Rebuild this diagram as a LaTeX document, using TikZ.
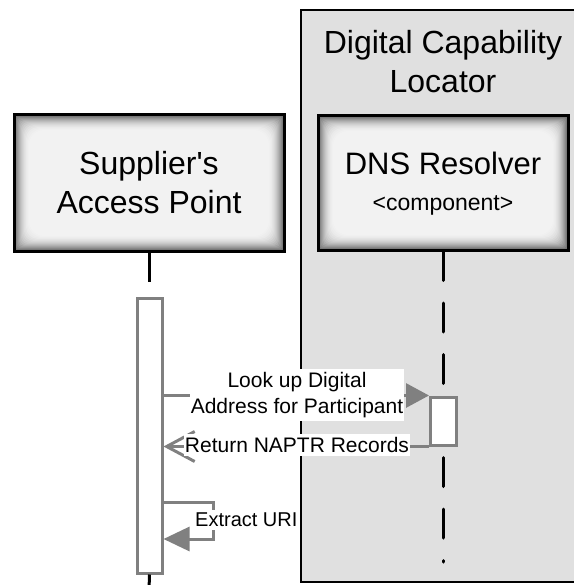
\documentclass[tikz,border=0pt]{standalone}
\usepackage{fontspec}
\setmainfont{Liberation Sans}[Ligatures=TeXOff]
\usetikzlibrary{arrows.meta}
\definecolor{contgray}{gray}{0.88}
\definecolor{msggray}{gray}{0.5}
\newcommand{\glowrect}[4]{%
  \fill[black!60] (#1,#2) rectangle (#3,#4);
  \foreach \i in {1,...,16}{
    \pgfmathsetmacro\c{95-55*(1-\i/16)^2}
    \fill[white!\c!black, rounded corners=\i pt] (#1+\i,#2+\i) rectangle (#3-\i,#4-\i);
  }%
}
\tikzset{
  boxnode/.style={draw=black, line width=3pt, inner sep=0pt, align=center},
  big/.style={font=\fontsize{32}{39}\selectfont},
  bar/.style={draw=msggray, fill=white, line width=3pt, inner sep=0pt, minimum width=25pt},
  msgline/.style={draw=msggray, line width=3pt},
  msglabel/.style={fill=white, inner xsep=1pt, inner ysep=3pt, align=center, font=\fontsize{21}{26}\selectfont},
  lifeline/.style={draw=black, line width=3pt},
}
\begin{document}
\begin{tikzpicture}[x=1pt, y=-1pt]
\useasboundingbox (0,0) rectangle (573,585);
% container
\draw[fill=contgray, line width=1.5pt] (301,10) rectangle (580,582);
\node[big, align=center] (title) at (443,62) {Digital Capability\\Locator};
% participant boxes
\glowrect{14}{115}{284}{251}
\node[boxnode, big, minimum width=270pt, minimum height=136pt] (sap) at (149,183) {Supplier's\\Access Point};
\glowrect{318}{116}{568}{250}
\node[boxnode, minimum width=250pt, minimum height=134pt] (dns) at (443,183) {};
\node[font=\fontsize{31}{36}\selectfont] (dnst) at (443,163) {DNS Resolver};
\node[font=\fontsize{23}{28}\selectfont] (dnsc) at (443,205) {<component>};
% lifelines
\coordinate (sapl) at (149,282);
\coordinate (sapend) at (149,590);
\coordinate (dnsend) at (443,562);
\draw[lifeline] (sap.south) -- (sapl);
\draw[lifeline, line cap=round, dash pattern=on 29pt off 22.5pt] (dns.south) -- (dnsend);
% activation bars
\node[bar, minimum height=275pt] (sapbar) at (149.5,435.5) {};
\draw[lifeline] (sapbar.south) -- (sapend);
\node[bar, minimum width=26pt, minimum height=48pt] (dnsbar) at (443.5,421) {};
% messages
\draw[msgline, -{Triangle[length=23pt,width=24pt]}] (sapbar.east |- dnsbar.north) -- (dnsbar.north west);
\node[msglabel] (m1) at (297,395) {Look up Digital\\Address for Participant};
\draw[msgline, -{Straight Barb[length=28pt,width=30pt]}] (dnsbar.south west) -- (sapbar.east |- dnsbar.south);
\node[msglabel] (m2) at (297,445) {Return NAPTR Records};
% self message
\coordinate (sa) at (213,502);
\coordinate (sb) at (213,539);
\draw[msgline, -{Triangle[length=26pt,width=24pt]}] (sapbar.east |- sa) -- (sa) -- (sb) -- (sapbar.east |- sb);
\node[msglabel, anchor=west, font=\fontsize{20}{24}\selectfont] (m3) at (194,520) {Extract URI};
\end{tikzpicture}
\end{document}
